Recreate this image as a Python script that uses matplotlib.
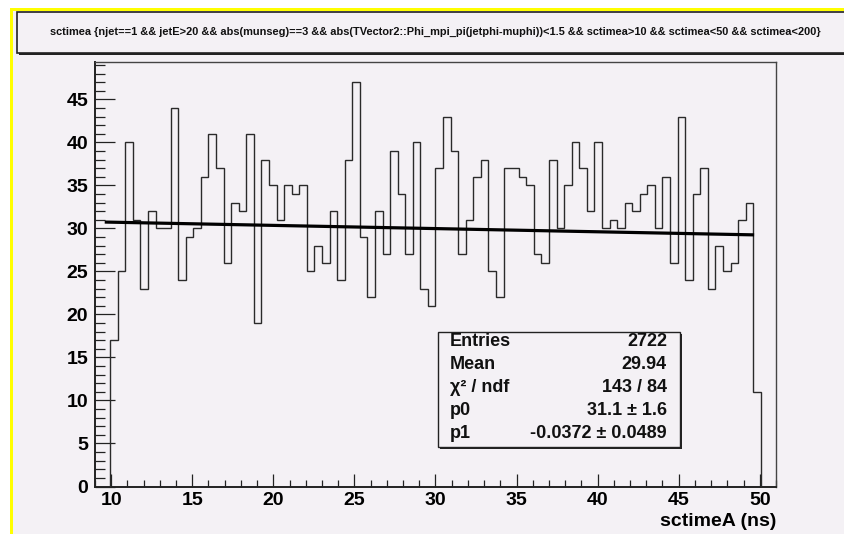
import numpy as np
import matplotlib
matplotlib.use("Agg")
import matplotlib.pyplot as plt
from matplotlib.patches import Rectangle
from matplotlib.ticker import MultipleLocator

# histogram sctimeA: 90 bins over [9, 51], filled bins start at bin 2
xmin, xmax, nbins = 9.0, 51.0, 90
first_bin = 2
counts = [17, 25, 40, 31, 23, 32, 30, 30, 44, 24, 29, 30, 36, 41, 37, 26, 33, 32, 41, 19,
          38, 35, 31, 35, 34, 35, 25, 28, 26, 32, 24, 38, 47, 29, 22, 32, 27, 39, 34, 27,
          40, 23, 21, 37, 43, 39, 27, 31, 36, 38, 25, 22, 37, 37, 36, 35, 27, 26, 38, 30,
          35, 40, 37, 32, 40, 30, 31, 30, 33, 32, 34, 35, 30, 36, 26, 43, 24, 34, 37, 23,
          28, 25, 26, 31, 33, 11]

# pol1 fit result
p0, p1 = 31.1, -0.0372
fit_lo, fit_hi = 9.6, 49.65

stat_names = ["Entries", "Mean", "\u03c7\u00b2 / ndf", "p0", "p1"]
stat_values = ["2722", "29.94", "143 / 84", "31.1 \u00b1 1.6", "-0.0372 \u00b1 0.0489"]

title = ("sctimea {njet==1 && jetE>20 && abs(munseg)==3 && "
         "abs(TVector2::Phi_mpi_pi(jetphi-muphi))<1.5 && sctimea>10 && "
         "sctimea<50 && sctimea<200}")

W, H = 844, 534
bg = "#f4f1f5"
plt.rcParams["font.family"] = ["Liberation Sans", "DejaVu Sans"]
plt.rcParams["font.weight"] = "bold"


def fx(x):
    return x / W


def fy(y):
    return 1 - y / H


fig = plt.figure(figsize=(W / 100, H / 100), dpi=100, facecolor="white")

# canvas background + yellow border on left/top
fig.add_artist(Rectangle((fx(11), 0), 1, fy(9), transform=fig.transFigure,
                         facecolor=bg, edgecolor="none", zorder=0))
fig.add_artist(Rectangle((fx(10), 0), fx(2.5), fy(8), transform=fig.transFigure,
                         facecolor="#ffff00", edgecolor="none", zorder=1))
fig.add_artist(Rectangle((fx(10), fy(10.5)), 1, 2.5 / H, transform=fig.transFigure,
                         facecolor="#ffff00", edgecolor="none", zorder=1))

# title box with shadow
fig.add_artist(Rectangle((fx(19), fy(55)), 1, (55 - 14) / H, transform=fig.transFigure,
                         facecolor="#222222", edgecolor="none", zorder=2))
fig.add_artist(Rectangle((fx(17), fy(53)), 1, (53 - 12) / H, transform=fig.transFigure,
                         facecolor=bg, edgecolor="#222222", lw=1.2, zorder=3))
fig.text(fx(435), fy(32), title, fontsize=7.95, fontweight="bold", ha="center",
         va="center", color="#111111", zorder=4)

ax = fig.add_axes([fx(95), fy(486.5), fx(776 - 95), (486.5 - 62) / H])
ax.set_facecolor(bg)

bw = (xmax - xmin) / nbins
edges = xmin + bw * np.arange(first_bin, first_bin + len(counts) + 1)
ax.stairs(counts, edges, baseline=0, color="#2a2a2a", lw=1.0, zorder=3)

xf = np.array([fit_lo, fit_hi])
ax.plot(xf, p0 + p1 * xf, color="black", lw=2.3, zorder=4, solid_capstyle="butt")

ax.set_xlim(xmin, xmax)
ax.set_ylim(0, 47 * 1.05)
ax.xaxis.set_major_locator(MultipleLocator(5))
ax.xaxis.set_minor_locator(MultipleLocator(1))
ax.yaxis.set_major_locator(MultipleLocator(5))
ax.yaxis.set_minor_locator(MultipleLocator(1))
ax.set_xticks(np.arange(10, 51, 5))
ax.tick_params(axis="x", which="major", direction="in", length=9.5, width=0.9,
               pad=4, labelsize=14, color="#222222")
ax.tick_params(axis="x", which="minor", direction="in", length=5, width=0.9,
               color="#222222")
ax.tick_params(axis="y", which="major", direction="in", length=14.5, width=0.9,
               pad=5, labelsize=14, color="#222222")
ax.tick_params(axis="y", which="minor", direction="in", length=7.2, width=0.9,
               color="#222222")
for lab in ax.get_xticklabels() + ax.get_yticklabels():
    lab.set_fontweight("bold")

for s in ["top", "right"]:
    ax.spines[s].set_color("#444444")
    ax.spines[s].set_linewidth(1.0)
for s in ["left", "bottom"]:
    ax.spines[s].set_color("#222222")
    ax.spines[s].set_linewidth(1.4)

ax.set_xlabel("sctimeA (ns)", loc="right", fontsize=14, fontweight="bold", labelpad=3)

# stats box
fig.add_artist(Rectangle((fx(440), fy(449)), fx(680 - 438), (447 - 332) / H,
                         transform=fig.transFigure, facecolor="#222222",
                         edgecolor="none", zorder=5))
fig.add_artist(Rectangle((fx(438), fy(447)), fx(680 - 438), (447 - 332) / H,
                         transform=fig.transFigure, facecolor=bg,
                         edgecolor="#222222", lw=1.0, zorder=6))
row_y = [342, 364.5, 388, 410.5, 433]
for name, val, ry in zip(stat_names, stat_values, row_y):
    fig.text(fx(450), fy(ry), name, fontsize=13, fontweight="bold", ha="left",
             va="center", color="#111111", zorder=7)
    fig.text(fx(667), fy(ry), val, fontsize=13, fontweight="bold", ha="right",
             va="center", color="#111111", zorder=7)

fig.savefig("out.png", dpi=100, facecolor=fig.get_facecolor())
